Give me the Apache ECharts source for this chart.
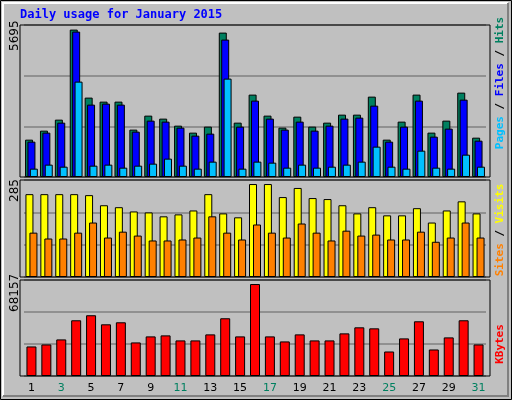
<!DOCTYPE html><html><head><meta charset="utf-8"><script src="https://cdn.jsdelivr.net/npm/echarts@6/dist/echarts.min.js"></script>
<style>html,body{margin:0;padding:0;background:#c0c0c0}#c{width:512px;height:400px}</style></head><body><div id="c"></div><script>
const days=['1','2','3','4','5','6','7','8','9','10','11','12','13','14','15','16','17','18','19','20','21','22','23','24','25','26','27','28','29','30','31'];
const weekend=['3','4','10','11','17','18','24','25','31'];
const hits=[1443,1791,2216,5695,3067,2912,2912,1830,2371,2255,1984,1714,1946,5579,2100,3183,2371,1907,2332,1946,2100,2409,2409,3105,1443,2139,3183,1714,2178,3260,1520];
const files=[1366,1714,2100,5618,2796,2835,2796,1752,2178,2139,1907,1598,1675,5309,1946,2951,2255,1830,2139,1791,1984,2255,2294,2757,1366,1946,2951,1559,1868,2989,1404];
const pages=[322,477,399,3685,438,477,361,438,515,709,438,322,593,3801,322,593,554,361,477,361,399,477,593,1173,399,322,1018,361,322,863,399];
const visits=[254,254,254,254,251,220,214,201,198,186,192,204,254,195,183,285,285,245,273,242,239,220,195,214,189,189,211,167,204,232,195];
const sites=[136,118,118,136,167,121,139,127,112,112,115,121,186,136,115,161,136,121,164,136,112,142,127,130,115,115,139,108,121,167,121];
const kbytes=[21890,23383,27114,41293,45024,38308,39800,24875,29353,30099,26368,26368,30845,42785,29353,68157,29353,25621,30845,26368,26368,31591,36069,35323,18159,27860,40546,19651,28606,41293,23383];
const maxLabels=['5695','285','68157'];
const ch=echarts.init(document.getElementById('c'));
const L=24,R=26;
const grids=[{left:L,right:R,top:25,height:152},{left:L,right:R,top:180,height:97},{left:L,right:R,top:280,height:96}];
const xa=grids.map((g,i)=>({type:'category',gridIndex:i,data:days,axisLine:{show:false},axisTick:{show:false},
 axisLabel:{show:i===2,fontFamily:'DejaVu Sans',fontSize:11,margin:7,color:v=>weekend.includes(v)?'#008060':'#000'}}));
const maxes=[5873,297.4,71142];
const ya=maxes.map((m,i)=>({type:'value',gridIndex:i,min:0,max:m,interval:m/3,axisLabel:{show:false},axisLine:{show:false},axisTick:{show:false},splitLine:{lineStyle:{color:'#808080',width:1.5}}}));
const bs=(name,data,color,xi,w,gap)=>({type:'bar',name,data,xAxisIndex:xi,yAxisIndex:xi,barWidth:w,barGap:gap,itemStyle:{color,borderColor:'#000',borderWidth:1},silent:true,animation:false});
const rot=Math.PI/2;
const frame=(y,h)=>({type:'rect',shape:{x:20,y:y,width:470,height:h},style:{fill:null,stroke:'#000',lineWidth:1},z:10,silent:true});
const vt=(x,y,rich,text)=>({type:'text',x,y,rotation:rot,style:{text,rich,font:'bold 11px "DejaVu Sans Mono"',align:'center',verticalAlign:'middle'},z:10});
ch.setOption({animation:false,grid:grids,xAxis:xa,yAxis:ya,
 series:[bs('Hits',hits,'#008060',0,8,'-70%'),bs('Files',files,'#0000ff',0,8,'-70%'),bs('Pages',pages,'#00c0ff',0,8,'-70%'),
  bs('Visits',visits,'#ffff00',1,8,'-50%'),bs('Sites',sites,'#ff8000',1,8,'-50%'),bs('KBytes',kbytes,'#ff0000',2,10,'0%')],
 graphic:[
  {type:'rect',shape:{x:0.5,y:0.5,width:511,height:399},style:{fill:null,stroke:'#000',lineWidth:1}},
  {type:'polyline',shape:{points:[[3,396],[3,3],[508,3]]},style:{stroke:'#fff',lineWidth:2,fill:null}},
  {type:'polyline',shape:{points:[[508,3],[508,396],[3,396]]},style:{stroke:'#808080',lineWidth:2,fill:null}},
  {type:'text',x:20,y:15,style:{text:'Daily usage for January 2015',font:'bold 12px "DejaVu Sans Mono"',fill:'#0000ff',verticalAlign:'middle'}},
  frame(25,152),frame(180,97),frame(280,96),
  {type:'text',x:15,y:51,rotation:rot,style:{text:maxLabels[0],font:'12px "DejaVu Sans"',fill:'#000',align:'left',verticalAlign:'middle'}},
  {type:'text',x:15,y:202,rotation:rot,style:{text:maxLabels[1],font:'12px "DejaVu Sans"',fill:'#000',align:'left',verticalAlign:'middle'}},
  {type:'text',x:15,y:312,rotation:rot,style:{text:maxLabels[2],font:'12px "DejaVu Sans"',fill:'#000',align:'left',verticalAlign:'middle'}},
  vt(500,83,{p:{fill:'#00c0ff'},f:{fill:'#0000ff'},h:{fill:'#008060'},s:{fill:'#000'}},'{p|Pages}{s| / }{f|Files}{s| / }{h|Hits}'),
  vt(500,230,{a:{fill:'#ff8000'},b:{fill:'#ffff00'},s:{fill:'#000'}},'{a|Sites}{s| / }{b|Visits}'),
  vt(500,344,{k:{fill:'#ff0000'}},'{k|KBytes}')
 ]});
</script></body></html>
